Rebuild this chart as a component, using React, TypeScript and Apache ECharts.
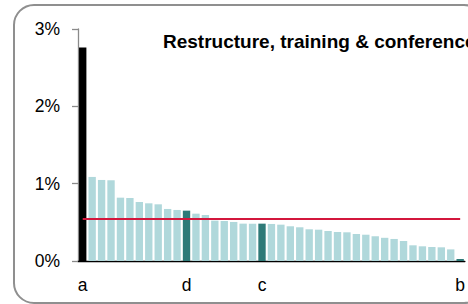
import React, { useEffect, useRef } from "react";
import * as echarts from "echarts";

const categories = [
  "a", "", "", "", "", "", "", "", "", "", "", "d", "", "", "", "", "", "", "", "c",
  "", "", "", "", "", "", "", "", "", "", "", "", "", "", "", "", "", "", "", "", "b",
];
const values = [
  2.76, 1.087, 1.048, 1.044, 0.819, 0.815, 0.763, 0.746, 0.733, 0.673, 0.66, 0.651,
  0.612, 0.595, 0.522, 0.517, 0.505, 0.483, 0.483, 0.483, 0.479, 0.47, 0.449, 0.436,
  0.41, 0.405, 0.388, 0.375, 0.371, 0.349, 0.34, 0.32, 0.3, 0.285, 0.259, 0.203,
  0.19, 0.181, 0.177, 0.15, 0.026,
];
const averageValue = 0.547;
const yTicks = [0, 1, 2, 3];
const title = "Restructure, training & conference";

export default function App() {
  const ref = useRef<HTMLDivElement>(null);
  useEffect(() => {
    const chart = echarts.init(ref.current!, undefined, { renderer: "svg" });
    const font = "Arial, 'Liberation Sans', sans-serif";
    chart.setOption({
      animation: false,
      graphic: [
        {
          type: "rect",
          shape: { x: 14, y: 5, width: 470, height: 298, r: 20 },
          style: { fill: "none", stroke: "#8f8f8f", lineWidth: 2 },
          z: 0,
        },
        {
          type: "text",
          x: 163,
          y: 41,
          style: {
            text: title,
            font: `bold 19px ${font}`,
            fill: "#000",
            verticalAlign: "middle",
          },
          z: 10,
        },
      ],
      grid: { left: 78, right: 0.5, top: 29, bottom: 43, containLabel: false },
      xAxis: {
        type: "category",
        data: categories,
        axisLine: { lineStyle: { color: "#000", width: 1.3 } },
        axisTick: { show: false },
        axisLabel: {
          interval: 0,
          margin: 15,
          color: "#000",
          fontSize: 17.5,
          fontFamily: font,
        },
      },
      yAxis: {
        type: "value",
        min: yTicks[0],
        max: yTicks[yTicks.length - 1],
        interval: 1,
        splitLine: { show: false },
        axisLine: { show: true, lineStyle: { color: "#8a8a8a", width: 1.3 } },
        axisTick: { show: true, length: 6, lineStyle: { color: "#8a8a8a", width: 1.3 } },
        axisLabel: {
          margin: 18,
          color: "#000",
          fontSize: 17.5,
          fontFamily: font,
          formatter: (v: number) => `${v}%`,
        },
      },
      series: [
        {
          type: "bar",
          data: values,
          barCategoryGap: "22%",
          itemStyle: {
            color: (p: any) => {
              const name = categories[p.dataIndex];
              if (name === "a") return "#000000";
              if (name === "d" || name === "c" || name === "b") return "#2e7a78";
              return "#b0d8db";
            },
          },
          markLine: {
            silent: true,
            symbol: "none",
            label: { show: false },
            lineStyle: { color: "#d3163c", width: 2, type: "solid" },
            data: [
              [
                { coord: [0, averageValue] },
                { coord: [values.length - 1, averageValue] },
              ],
            ],
          },
        },
      ],
    });
    return () => chart.dispose();
  }, []);
  return (
    <div
      ref={ref}
      style={{ position: "absolute", left: 0, top: 0, width: 468, height: 304 }}
    />
  );
}
